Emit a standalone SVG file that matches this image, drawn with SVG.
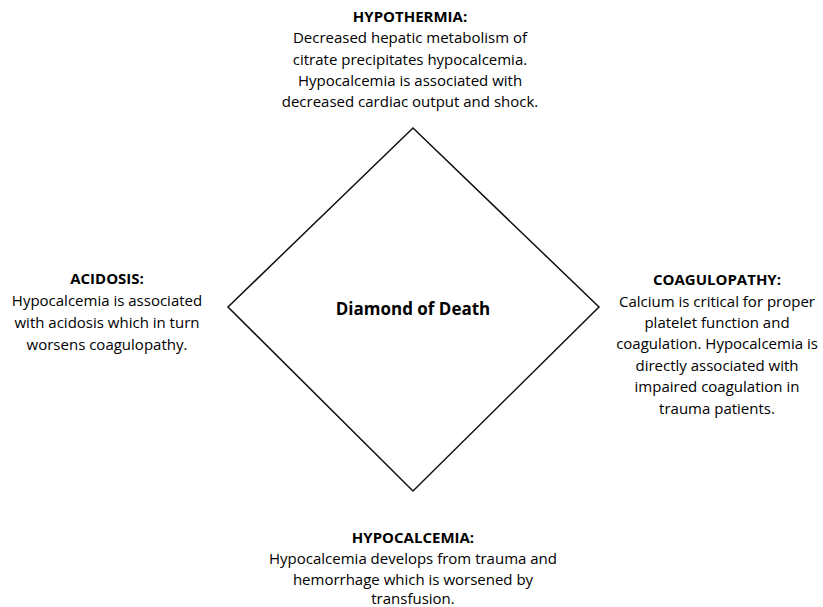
<svg xmlns="http://www.w3.org/2000/svg" width="823" height="607" viewBox="0 0 823 607">
<style>
text{font-family:"Open Sans","Liberation Sans",sans-serif;font-size:15px;fill:#000;text-anchor:middle}
.t{font-weight:bold}
.c{font-weight:bold;font-size:17px}
.d{fill:#fff;stroke:#111;stroke-width:1.5}
</style>
<rect width="823" height="607" fill="#fff"/>
<g id="diamond">
<polygon class="d" points="413,128 599,307 413,491 228,307"/>
<text class="c" x="413" y="315">Diamond of Death</text>
</g>
<g id="connectors"></g>
<g id="hypothermia">
<text class="t" x="410" y="22">HYPOTHERMIA:</text>
<text x="410" y="43">Decreased hepatic metabolism of</text>
<text x="410" y="65">citrate precipitates hypocalcemia.</text>
<text x="410" y="86">Hypocalcemia is associated with</text>
<text x="410" y="107">decreased cardiac output and shock.</text>
</g>
<g id="acidosis">
<text class="t" x="107" y="284">ACIDOSIS:</text>
<text x="107" y="306">Hypocalcemia is associated</text>
<text x="107" y="328">with acidosis which in turn</text>
<text x="107" y="350">worsens coagulopathy.</text>
</g>
<g id="coagulopathy">
<text class="t" x="717" y="285">COAGULOPATHY:</text>
<text x="717" y="307">Calcium is critical for proper</text>
<text x="717" y="328">platelet function and</text>
<text x="717" y="349">coagulation. Hypocalcemia is</text>
<text x="717" y="371">directly associated with</text>
<text x="717" y="392">impaired coagulation in</text>
<text x="717" y="414">trauma patients.</text>
</g>
<g id="hypocalcemia">
<text class="t" x="413" y="543">HYPOCALCEMIA:</text>
<text x="413" y="564">Hypocalcemia develops from trauma and</text>
<text x="413" y="585">hemorrhage which is worsened by</text>
<text x="413" y="604">transfusion.</text>
</g>
</svg>
